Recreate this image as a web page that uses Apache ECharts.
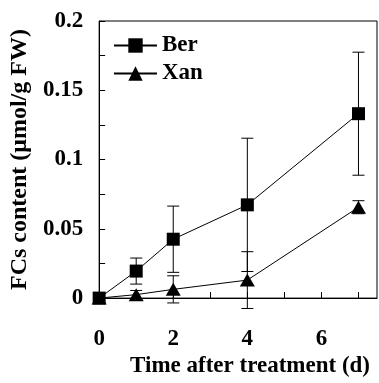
<!DOCTYPE html>
<html>
<head>
<meta charset="utf-8">
<script src="https://cdn.jsdelivr.net/npm/echarts@6/dist/echarts.min.js"></script>
<style>
  html, body { margin: 0; padding: 0; background: #fff; }
  #chart { width: 379px; height: 383px; }
</style>
</head>
<body>
<div id="chart"></div>
<script>
// days after treatment
const days = [0, 1, 2, 4, 7];

// FCs content, µmol/g FW
const berMean = [0, 0.0195, 0.0425, 0.0673, 0.1331];
const berErr = [0, 0.0094, 0.0239, 0.0481, 0.0444];
const xanMean = [0, 0.0025, 0.0063, 0.013, 0.0656];
const xanErr = [0, 0.003, 0.0098, 0.0205, 0.0047];

const xTickLabels = ['0', '2', '4', '6'];
const yTickLabels = ['0', '0.05', '0.1', '0.15', '0.2'];

const font = 'Liberation Serif';

const toPoints = (mean) => days.map((d, i) => [d, mean[i]]);
const toBars = (mean, err) => days.map((d, i) => [d, mean[i] - err[i], mean[i] + err[i]]);

function errorBars(params, api) {
  const x = api.value(0);
  const lo = api.coord([x, api.value(1)]);
  const hi = api.coord([x, api.value(2)]);
  const cap = 6;
  const style = { stroke: '#000', lineWidth: 1 };
  return {
    type: 'group',
    children: [
      { type: 'line', shape: { x1: lo[0], y1: lo[1], x2: hi[0], y2: hi[1] }, style },
      { type: 'line', shape: { x1: hi[0] - cap, y1: hi[1], x2: hi[0] + cap, y2: hi[1] }, style },
      { type: 'line', shape: { x1: lo[0] - cap, y1: lo[1], x2: lo[0] + cap, y2: lo[1] }, style },
    ],
  };
}

const chart = echarts.init(document.getElementById('chart'));

chart.setOption({
  animation: false,
  grid: {
    left: 98,
    right: 2,
    top: 21,
    bottom: 78,
    show: true,
    borderColor: '#000',
    borderWidth: 1,
  },
  legend: {
    orient: 'vertical',
    left: 108,
    top: 29,
    itemWidth: 43,
    itemHeight: 18,
    itemGap: 5,
    data: ['Ber', 'Xan'],
    textStyle: { fontFamily: font, fontWeight: 'bold', fontSize: 23, color: '#000' },
  },
  xAxis: {
    type: 'value',
    min: 0,
    max: 7.5,
    interval: 1,
    name: 'Time after treatment (d)',
    nameLocation: 'middle',
    nameGap: 56,
    nameTextStyle: {
      fontFamily: font, fontWeight: 'bold', fontSize: 23, color: '#000',
      padding: [0, 0, 0, 24],
    },
    axisLine: { lineStyle: { color: '#000', width: 1 } },
    axisTick: { inside: true, length: 6, lineStyle: { color: '#000' } },
    splitLine: { show: false },
    axisLabel: {
      margin: 29,
      fontFamily: font, fontWeight: 'bold', fontSize: 23, color: '#000',
      showMaxLabel: false,
      formatter: (v) => (xTickLabels.includes(String(v)) ? String(v) : ''),
    },
  },
  yAxis: {
    type: 'value',
    min: 0,
    max: 0.2,
    interval: 0.025,
    name: 'FCs content (μmol/g FW)',
    nameLocation: 'middle',
    nameGap: 64,
    nameTextStyle: { fontFamily: font, fontWeight: 'bold', fontSize: 24, color: '#000' },
    axisLine: { show: true, lineStyle: { color: '#000', width: 1 } },
    axisTick: { show: true, inside: true, length: 6, lineStyle: { color: '#000' } },
    splitLine: { show: false },
    axisLabel: {
      margin: 16,
      fontFamily: font, fontWeight: 'bold', fontSize: 23, color: '#000',
      formatter: (v) => {
        const s = String(+v.toFixed(3));
        return yTickLabels.includes(s) ? s : '';
      },
    },
  },
  series: [
    {
      name: 'Ber err',
      type: 'custom',
      renderItem: errorBars,
      data: toBars(berMean, berErr),
      encode: { x: 0, y: [1, 2] },
      z: 1,
    },
    {
      name: 'Xan err',
      type: 'custom',
      renderItem: errorBars,
      data: toBars(xanMean, xanErr),
      encode: { x: 0, y: [1, 2] },
      z: 1,
    },
    {
      name: 'Ber',
      type: 'line',
      data: toPoints(berMean),
      symbol: 'rect',
      symbolSize: 13,
      itemStyle: { color: '#000' },
      lineStyle: { color: '#000', width: 1 },
      z: 3,
    },
    {
      name: 'Xan',
      type: 'line',
      data: toPoints(xanMean),
      symbol: 'triangle',
      symbolSize: [15, 13],
      itemStyle: { color: '#000' },
      lineStyle: { color: '#000', width: 1 },
      z: 4,
    },
  ],
});
</script>
</body>
</html>
